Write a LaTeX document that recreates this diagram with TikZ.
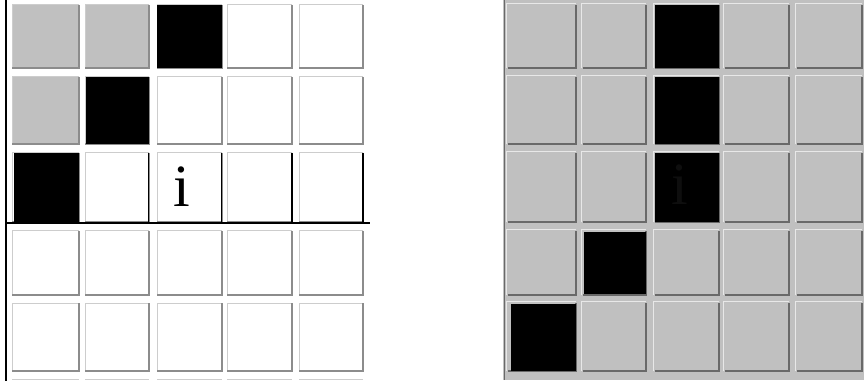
\documentclass[tikz,border=0pt]{standalone}
\usepackage{fontspec}
\newfontfamily\glyphfont{Liberation Serif}
\begin{document}
\begin{tikzpicture}[x=1pt,y=-1pt,
  edgelight/.style={draw={rgb,255:red,205;green,205;blue,205},line width=1pt},
  edgedark/.style={draw={rgb,255:red,140;green,140;blue,140},line width=1.2pt},
  redgelight/.style={draw={rgb,255:red,232;green,232;blue,232},line width=1.2pt},
  redgedark/.style={draw={rgb,255:red,105;green,105;blue,105},line width=1.4pt},
  rule/.style={draw=black,line width=1.5pt},
  glyph/.style={font=\glyphfont\fontsize{60}{60}\selectfont,anchor=base,inner sep=0pt}]
\definecolor{cellgray}{RGB}{192,192,192}
\definecolor{ghost}{RGB}{14,14,14}
\useasboundingbox (0,0) rectangle (864,387);
\fill[white] (0,0) rectangle (864,387);
% ---------- left panel ----------
\foreach \xa/\xb [count=\c] in {12/79,85/149,157/222,227/292,299/363}{
  \foreach \ya/\yb [count=\r] in {5/68,77/144,153/222,231/295,303/371}{
    \fill[white] (\xa,\ya) rectangle (\xb,\yb);
    \draw[edgelight] (\xa,\yb) -- (\xa,\ya) -- (\xb,\ya);
    \draw[edgedark] (\xb,\ya) -- (\xb,\yb) -- (\xa,\yb);
  }
  % partial sixth row
  \draw[edgelight] (\xa,379.5) -- (\xb,379.5);
}
% gray cells
\foreach \xa/\xb/\ya/\yb in {12/79/5/68,85/149/5/68,12/79/77/144}{
  \fill[cellgray] (\xa,\ya) rectangle (\xb,\yb);
  \draw[edgelight] (\xa,\yb) -- (\xa,\ya) -- (\xb,\ya);
  \draw[edgedark] (\xb,\ya) -- (\xb,\yb) -- (\xa,\yb);
}
% black cells
\foreach \xa/\xb/\ya/\yb in {157/222/5/68,86/149/77/144,14/79/153/222}{
  \fill[black] (\xa,\ya) rectangle (\xb,\yb);
}
% black rules
\draw[rule,line width=2pt] (6,0) -- (6,381);
\draw[rule] (6,223) -- (370,223);
\foreach \x in {148.5,221.5,292,363}{
  \draw[rule] (\x,153) -- (\x,223);
}
\node[glyph] (leftglyph) at (182,207) {i};
% ---------- right panel ----------
\fill[cellgray] (503,0) rectangle (864,380);
\draw[redgedark,line width=1pt] (504,0) -- (504,380);
\foreach \xa/\xb in {508/576,583/646,655/719,725/789,797/862}{
  \foreach \ya/\yb in {5/68,77/144,153/222,231/295,303/371}{
    \draw[redgelight] (\xa-1.5,\yb) -- (\xa-1.5,\ya-1.5) -- (\xb,\ya-1.5);
    \draw[redgedark] (\xb,\ya) -- (\xb,\yb) -- (\xa,\yb);
  }
}
\foreach \xa/\xb/\ya/\yb in {655/719/5/68,655/719/77/144,655/719/153/222,584/646/232/294,511/576/304/371}{
  \fill[black] (\xa,\ya) rectangle (\xb,\yb);
}
\node[glyph,text=ghost] (rightglyph) at (680,205) {i};
\end{tikzpicture}
\end{document}
